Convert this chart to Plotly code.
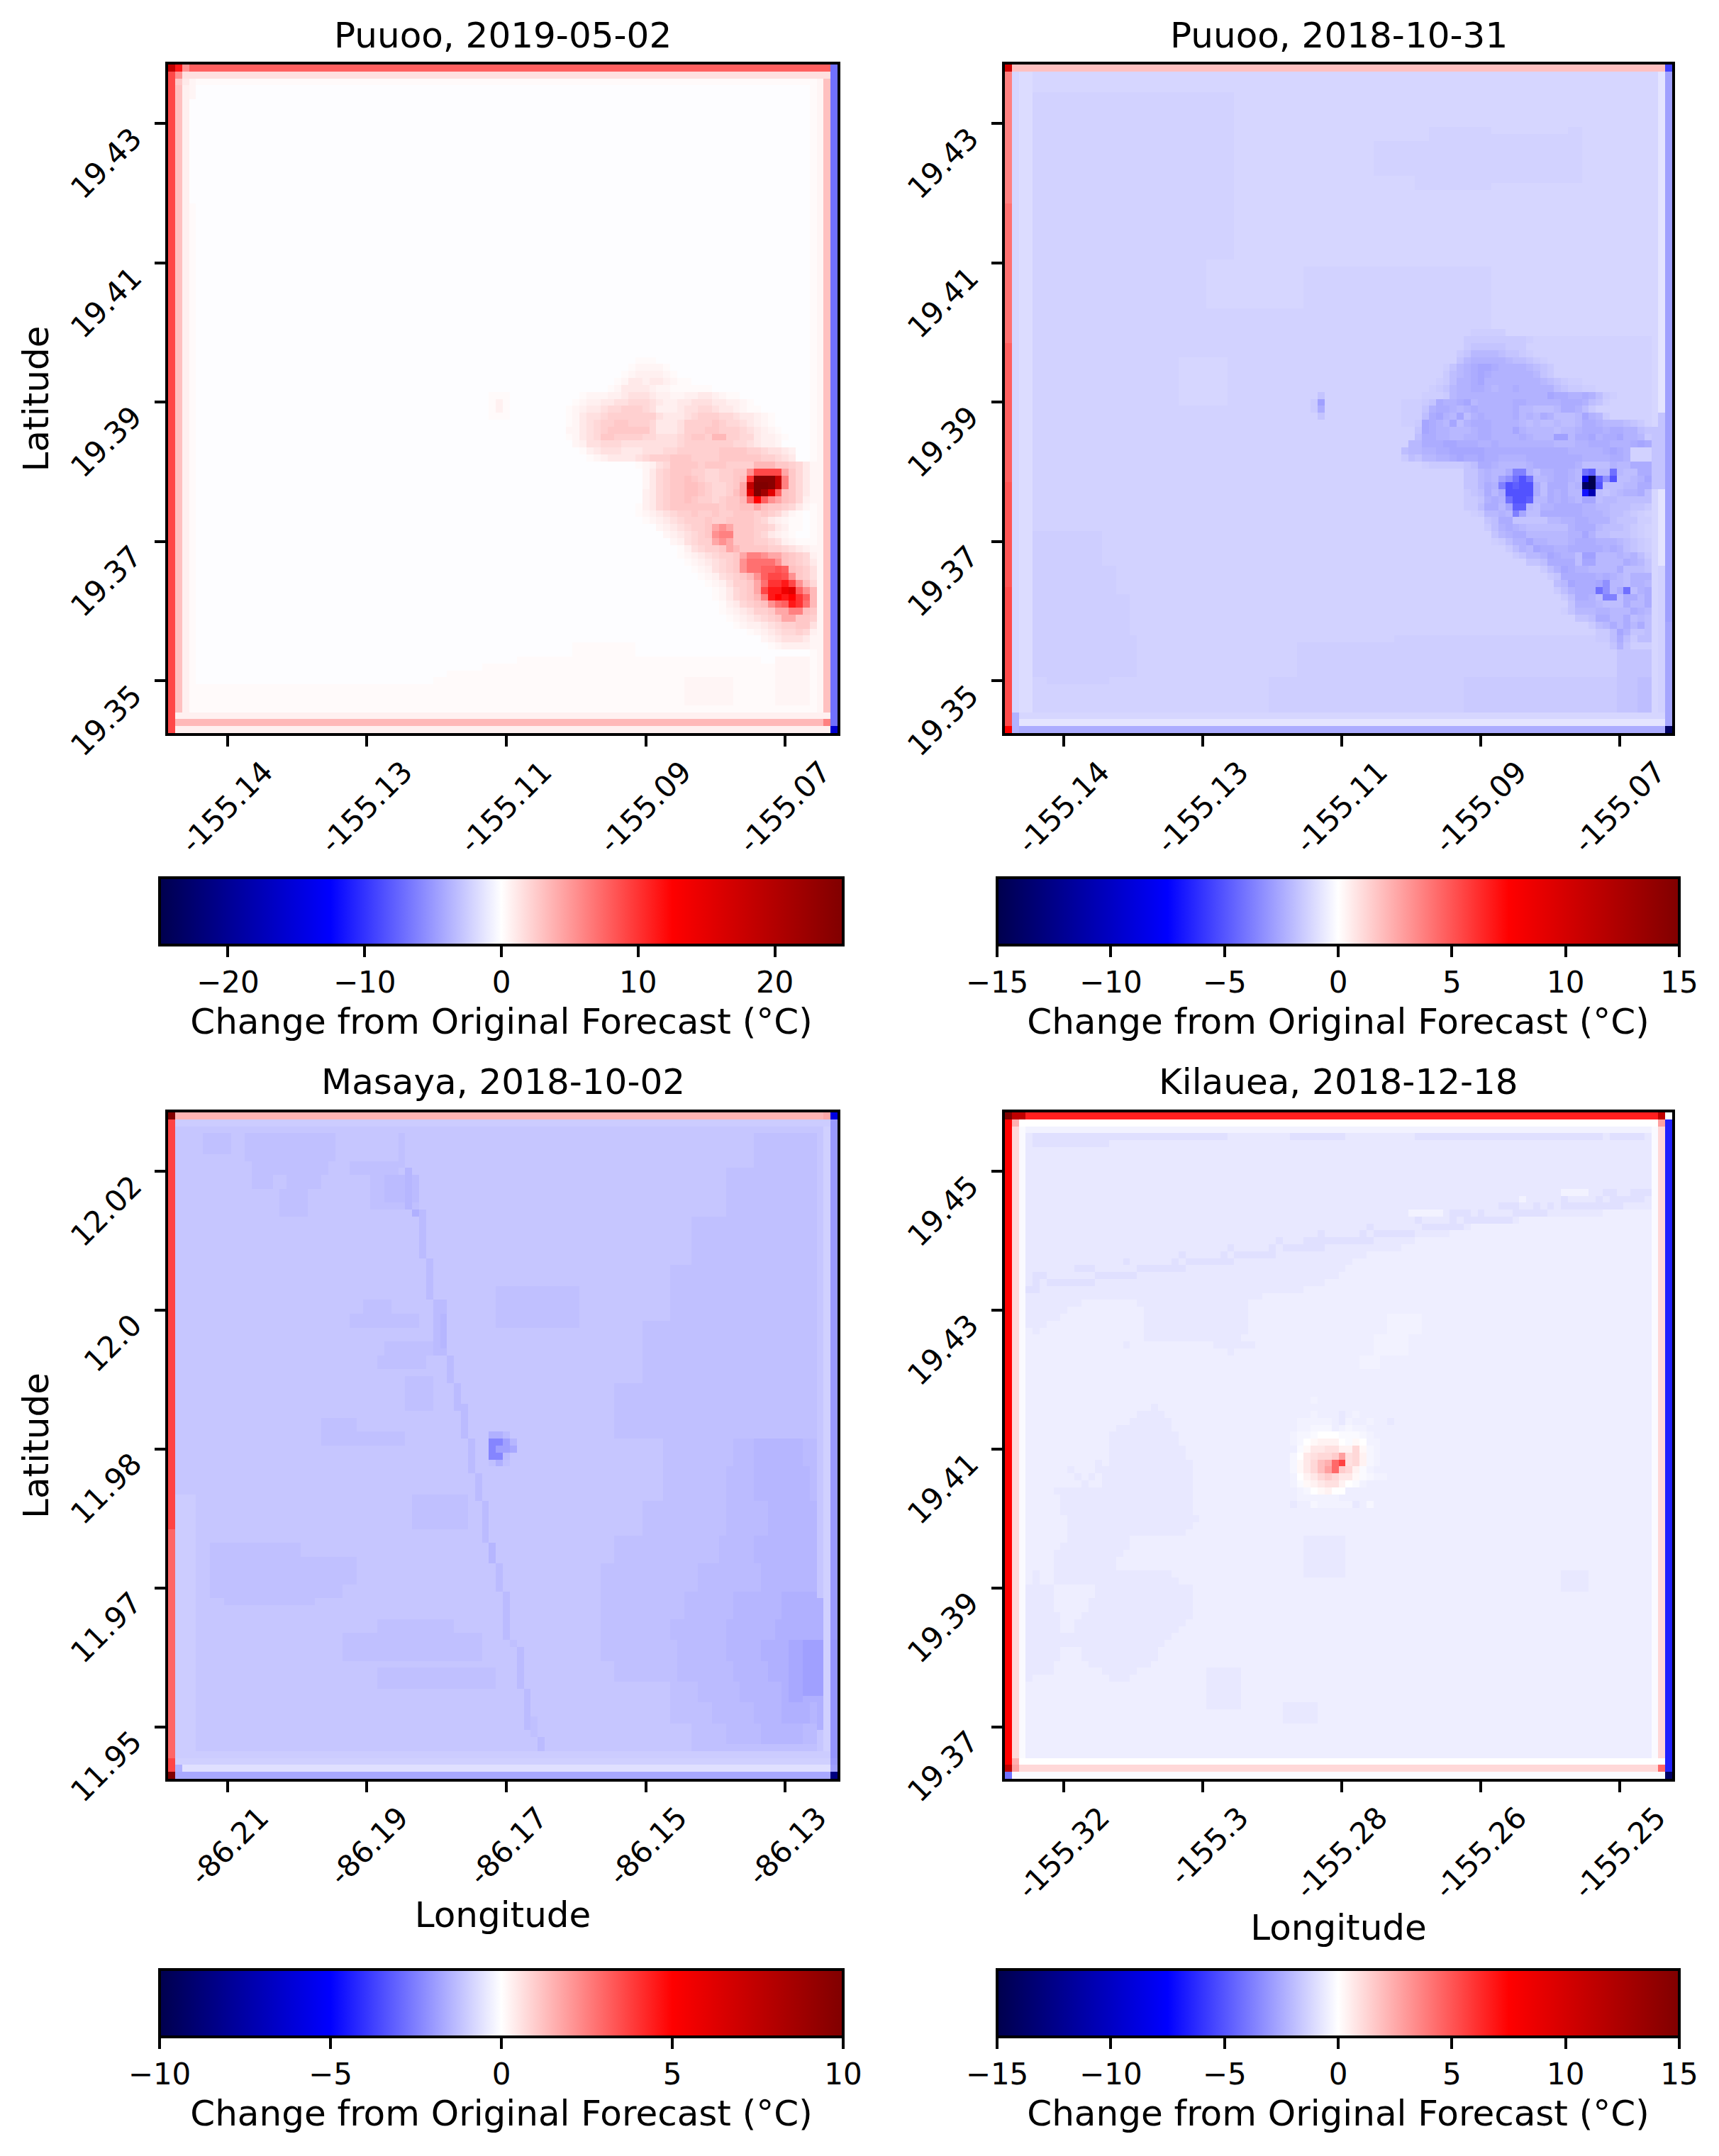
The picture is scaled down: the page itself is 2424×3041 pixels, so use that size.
import plotly.graph_objects as go

W, H = 2424, 3041
FONT = "DejaVu Sans"
N = 96

TITLES = ["Puuoo, 2019-05-02", "Puuoo, 2018-10-31", "Masaya, 2018-10-02", "Kilauea, 2018-12-18"]
TICK_POS = [8, 28, 48, 68, 88]
X_LABELS = [["-155.14", "-155.13", "-155.11", "-155.09", "-155.07"],
            ["-155.14", "-155.13", "-155.11", "-155.09", "-155.07"],
            ["-86.21", "-86.19", "-86.17", "-86.15", "-86.13"],
            ["-155.32", "-155.3", "-155.28", "-155.26", "-155.25"]]
Y_LABELS = [["19.43", "19.41", "19.39", "19.37", "19.35"],
            ["19.43", "19.41", "19.39", "19.37", "19.35"],
            ["12.02", "12.0", "11.98", "11.97", "11.95"],
            ["19.45", "19.43", "19.41", "19.39", "19.37"]]
VMAX = [25, 15, 10, 15]
DTICK = [10, 5, 5, 5]
CB_TITLE = "Change from Original Forecast (°C)"
SEISMIC = [[0, "rgb(0,0,77)"], [0.25, "rgb(0,0,255)"], [0.5, "rgb(255,255,255)"],
           [0.75, "rgb(255,0,0)"], [1, "rgb(128,0,0)"]]

# ---- Panel 1 values (deg C) by shade letter
P1_LEVELS = dict(n=-0.1, a=.25, b=.5, c=.75, d=1.1, e=1.5, f=1.9, g=2.3, h=2.7, i=3.1, j=3.5, k=4.3,
                 l=5.4, m=6.2, M=7.0, o=7.8, O=8.5, p=9.0, q=10.0, r=11.3, s=12.5, T=14.0, t=15.5,
                 u=18.7, v=21.8, x=24.2, y=25.0, B=-7.0, Z=-15.8)
P1_ZONES = [(47, 50, 46, 48, 'a'), (48, 49, 47, 47, 'c'),
            (83, 84, 58, 66, 'a'), (85, 85, 50, 84, 'a'), (86, 86, 45, 92, 'a'), (87, 87, 40, 92, 'a'),
            (88, 88, 38, 92, 'a'), (89, 92, 3, 92, 'a'), (88, 91, 74, 80, 'b'), (85, 91, 87, 91, 'b'),
            (20, 95, 3, 3, 'a'), (0, 95, 0, 0, 'p'), (0, 95, 1, 1, 'i'), (0, 95, 2, 2, 'c'),
            (0, 95, 92, 92, 'a'), (0, 95, 93, 93, 'b'), (0, 95, 94, 94, 'i'), (0, 95, 95, 95, 'B'),
            (0, 0, 0, 94, 'o'), (1, 1, 1, 94, 'e'), (2, 2, 3, 92, 'a'),
            (93, 93, 1, 94, 'c'), (94, 94, 1, 94, 'j'), (95, 95, 1, 94, 'c')]
P1_ROWS = [(42, 67, "aaa"), (43, 66, "abbbba"), (44, 65, "abccccba"), (45, 64, "abddcddcbaa"),
           (46, 63, "abddddcbbaaaaaa"), (47, 59, "abbbccdeeedccbbccddcbaa"),
           (48, 58, "abccddeefffedccddeeeddccba"), (49, 57, "abcddeffgggfecccdeeffeddcbaa"),
           (50, 57, "abdeefgggggggedddefgggffeddcba"), (51, 57, "abdefgghhgggfdddegggghgffedcba"),
           (52, 57, "bbdefghhhhhhfdddeggghhgggfedcba"), (53, 57, "abdefhhggggffeeefghhgjjggffdccba"),
           (54, 58, "bceefffeeeeeeeefgggggggffedccb"), (55, 59, "acdeeedddeeeffgggggghhhhggfeedc"),
           (56, 60, "abcddddefggghhhgggghhhhhhggfed"), (57, 67, "abcefhhhhghhhggggjjjhhgfdb"),
           (58, 68, "bdfghhhggffgghhlppppkhfdb"), (59, 68, "bdfghhihgffgghiqxxxumhfdb"),
           (60, 68, "bdfghhiihgffghkuyyxumhfdb"), (61, 68, "cdfghhiihgffgiktyvtoihfdb"),
           (62, 68, "cdfghhihggfghhjosolkihfcb"), (63, 67, "acdfghhhhhhhghhiikihhgfdba"),
           (64, 67, "abcdefgghgghgghhhghgfdba"), (65, 68, "abcdefggghgghhhhgfdcbaa"),
           (66, 70, "bcdefgghklkhhhggfdcaa"), (67, 71, "bcdefghlmmhhhgfdcba"),
           (68, 72, "bcefggklkhhhggfecbaa"), (69, 73, "acefgghkjhhhhggfedcb"),
           (70, 73, "abcdefgghkmmlkkihgfc"), (71, 74, "abcdefghlMMMMlihgfd"),
           (72, 75, "abcefghlMMooOoihge"), (73, 76, "abcefghjloppOlhge"),
           (74, 77, "abcegghkMqqrplif"), (75, 78, "abdfghkprrTtolj"), (76, 78, "abdfghjmrsrsqoj"),
           (77, 79, "acdfghilMorqMj"), (78, 79, "abcdegghkkmmih"), (79, 80, "abcdefghkkhhg"),
           (80, 81, "abccdefgghhe"), (81, 83, "abcdeffgfc"), (82, 85, "bcdeeedb"), (83, 86, "abccccb"),
           (0, 0, "url"), (0, 95, "B"), (1, 0, "pleee"), (2, 0, "phdb"), (3, 0, "picb"), (4, 0, "picb"),
           (94, 94, "m"), (95, 95, "Z")]

# ---- Panel 2
P2_LEVELS = dict(a=-1.21, b=-1.33, c=-1.44, d=-1.56, e=-1.73, f=-1.91, g=-2.09, h=-2.26, i=-2.44, j=-2.62,
                 k=-2.79, l=-3.26, m=-3.75, o=-4.2, p=-4.7, q=-5.1, r=-7.0, s=-8.8, t=-10.8, u=-14.2, v=-15.0,
                 x=-1.03, y=-0.8, Q=3.75, V=4.2, R=4.7, W=5.0, S=5.3, T=1.85, U=10.3, P=-5.6, A=7.5)
P2_ZONES = [(1, 3, 1, 94, 'a'), (4, 28, 33, 52, 'a'), (4, 8, 53, 92, 'a'), (8, 18, 83, 92, 'a'),
            (18, 28, 53, 92, 'a'), (8, 10, 53, 60, 'a'), (16, 18, 53, 58, 'a'), (8, 9, 70, 80, 'a'), (17, 18, 70, 82, 'a'),
            (28, 34, 29, 42, 'a'), (28, 38, 70, 92, 'a'), (42, 48, 25, 31, 'a'),
            (67, 72, 4, 13, 'c'), (72, 76, 4, 15, 'c'), (76, 82, 4, 17, 'c'), (82, 87, 4, 18, 'c'), (87, 88, 6, 14, 'c'),
            (82, 83, 56, 92, 'c'), (83, 87, 42, 92, 'c'), (88, 93, 38, 92, 'c'), (88, 92, 66, 92, 'd'),
            (84, 92, 88, 92, 'e'), (88, 92, 91, 92, 'f'),
            (0, 20, 0, 0, 'Q'), (20, 40, 0, 0, 'V'), (40, 60, 0, 0, 'R'), (60, 75, 0, 0, 'W'), (75, 95, 0, 0, 'S'),
            (0, 95, 1, 1, 'a'), (0, 95, 2, 3, 'x'),
            (0, 95, 93, 93, 'a'), (0, 95, 94, 94, 'y'), (50, 54, 94, 94, 'e'), (54, 60, 94, 94, 'c'),
            (52, 60, 93, 94, 'e'), (72, 95, 94, 94, 'b'), (0, 95, 95, 95, 'k'), (80, 95, 95, 95, 'j'),
            (0, 0, 0, 95, 'T'), (93, 93, 1, 94, 'a'), (94, 94, 1, 94, 'y'), (95, 95, 0, 94, 'i')]
P2_ROWS = [(38, 67, "ccccc"), (39, 66, "dddddddddc"), (40, 66, "deeeeeddd"), (41, 65, "deggggfeedc"),
           (42, 65, "eghhhhhgffedc"), (43, 63, "ceghijjihhhhgfed"), (44, 63, "dfghijihhhhhhged"),
           (45, 62, "cdfhhijhhhhhhhhgfedcc"), (46, 61, "cdeghhiihghhihhhhhfeddcc"),
           (47, 56, "bbbbcccdghhhhhhhhhhhhhjiihhihfdc"), (48, 56, "bcccdeihhijghhhhhiihhhhhiiihfec"),
           (49, 56, "bcccehiihghihhhhhiggfffgiihfd"), (50, 56, "bcccfijhgjfhihhhhighgihfffgjhgd"),
           (51, 56, "bccdjihgjfhiiihhhhgfgffgffgiihgggfed"),
           (52, 59, "ejihhggghiihhhjhggggfgghiiihiihhfed"), (53, 59, "fiihhgghhiihhhhihgggkkgiijhiijhhgdd"),
           (54, 58, "ggiiijjiiihhihhhhhhhhggghhiiihhhijiig"), (55, 57, "fgghhiijjjjjiiiiiiiiiiiihhhhhijih"),
           (56, 57, "dfegghhijiijiihhhhiiiiiiiihhhhiih"), (57, 60, "cdddddefiihgggghiiiiiihffffhggiiif"),
           (58, 66, "eeghggimmhfhhiihgopggogffiih"), (59, 66, "eeghgkloqogghiihgsvplqffghjh"),
           (60, 66, "eegihmqpqqifiiighuvqfffggiig"), (61, 66, "defigiqqqqifihiggrtfefghhife"),
           (62, 66, "ddehihoqqpggihihgjjfggffffffe"), (63, 66, "ddfiigjppgfhhiiiihhggfffeed"),
           (64, 67, "cdgghgmjffiiiiiihhhgffedc"), (65, 69, "efiieeeeegghhiihhhfeeecc"),
           (66, 69, "dfhihgffffffhiiigfffedc"), (67, 70, "eghiigggggghhjhffeeedc"),
           (68, 70, "cdfhhjhhggghiiihhhgfedc"), (69, 72, "dfhgjiihhiiiiihihfedc"),
           (70, 73, "degghjihhfkkggghghfd"), (71, 75, "eefiiiifjjggggihge"), (72, 77, "dfhjihhggggifffe"),
           (73, 78, "deiiiiihihgfhhhd"), (74, 79, "fgjiiijlggfhhgg"), (75, 79, "dfhiiiolgiofhif"),
           (76, 80, "dfiihfmmfiigif"), (77, 81, "ehhhgfffiggid"), (78, 80, "ceggghhgggihgf"),
           (79, 82, "eefiiggifgf"), (80, 84, "dfgigigif"), (81, 85, "ddfjheef"), (82, 85, "ddfifdff"), (83, 87, "ehe"),
           (47, 45, "e"), (48, 44, "dk"), (49, 44, "di"), (50, 45, "e"),
           (0, 0, "U"), (0, 95, "P"), (93, 1, "h"), (94, 0, "S"), (94, 1, "h"), (95, 0, "A"), (95, 1, "h"), (95, 95, "u")]

# ---- Panel 3
P3_LEVELS = dict(a=-1.0, b=-1.12, c=-1.24, d=-1.33, e=-1.43, f=-1.55, g=-1.7, h=-1.86, i=-2.1, j=-2.0, k=-2.4,
                 l=-0.92, m=-0.6, R=3.67, S=3.0, T=1.47, U=10.0, V=-5.9, W=-8.6, n=1.7)
P3_ZONES = [(3, 5, 5, 8, 'c'), (3, 6, 11, 23, 'c'), (7, 8, 12, 22, 'c'), (9, 10, 12, 14, 'c'), (9, 10, 17, 21, 'c'),
            (11, 14, 16, 19, 'c'), (7, 8, 26, 32, 'c'), (9, 13, 29, 35, 'c'),
            (9, 12, 31, 35, 'd'), (27, 28, 28, 31, 'c'), (29, 30, 26, 35, 'c'), (33, 34, 31, 38, 'c'), (35, 36, 30, 36, 'c'), (38, 42, 34, 37, 'c'),
            (44, 45, 22, 26, 'c'), (46, 47, 22, 33, 'c'), (55, 59, 35, 42, 'c'), (62, 63, 6, 18, 'c'), (64, 67, 6, 26, 'c'), (68, 69, 6, 24, 'c'), (70, 70, 8, 20, 'c'),
            (73, 74, 30, 40, 'c'), (75, 78, 25, 44, 'c'), (80, 82, 30, 46, 'c'),
            (3, 8, 84, 92, 'c'), (8, 15, 80, 92, 'c'), (15, 22, 75, 92, 'c'), (22, 30, 72, 92, 'c'), (25, 30, 47, 58, 'c'), (30, 38, 68, 92, 'c'), (39, 46, 64, 92, 'c'),
            (47, 50, 71, 92, 'c'), (47, 50, 81, 92, 'd'), (47, 50, 84, 90, 'e'),
            (51, 55, 71, 92, 'c'), (51, 55, 80, 92, 'd'), (51, 55, 84, 91, 'e'),
            (56, 60, 68, 92, 'c'), (56, 60, 80, 92, 'd'), (56, 60, 86, 92, 'e'),
            (61, 64, 64, 92, 'c'), (61, 64, 79, 92, 'd'), (61, 64, 84, 92, 'e'),
            (65, 68, 62, 92, 'c'), (65, 68, 76, 92, 'd'), (65, 68, 85, 92, 'e'),
            (69, 72, 62, 92, 'c'), (69, 72, 74, 92, 'd'), (69, 72, 81, 92, 'e'), (69, 72, 88, 92, 'f'),
            (73, 75, 62, 92, 'c'), (73, 75, 72, 92, 'd'), (73, 75, 80, 92, 'e'), (73, 75, 87, 92, 'f'),
            (76, 78, 62, 72, 'c'), (76, 78, 73, 92, 'd'), (76, 78, 80, 92, 'e'), (76, 78, 85, 92, 'f'),
            (79, 81, 64, 72, 'c'), (79, 81, 73, 92, 'd'), (79, 81, 81, 92, 'e'), (79, 81, 86, 92, 'f'),
            (82, 84, 72, 75, 'c'), (82, 84, 76, 92, 'd'), (82, 84, 82, 92, 'e'), (82, 84, 88, 92, 'f'),
            (85, 87, 72, 77, 'c'), (85, 87, 78, 92, 'd'), (85, 87, 84, 92, 'e'), (85, 87, 88, 91, 'f'),
            (88, 90, 75, 79, 'c'), (88, 90, 80, 92, 'd'), (88, 90, 85, 90, 'e'), (91, 91, 75, 92, 'c'),
            (76, 84, 89, 90, 'g'), (76, 83, 91, 92, 'h'), (70, 88, 93, 93, 'f'), (76, 83, 93, 93, 'h'),
            (1, 7, 33, 33, 'c'), (8, 13, 34, 34, 'e'), (14, 14, 35, 35, 'f'), (14, 20, 36, 36, 'd'), (21, 26, 37, 37, 'd'),
            (27, 34, 38, 39, 'd'), (29, 33, 39, 39, 'e'), (35, 38, 40, 40, 'd'), (39, 42, 41, 41, 'd'), (42, 46, 42, 42, 'd'),
            (47, 51, 43, 43, 'd'), (52, 55, 44, 44, 'd'), (56, 61, 45, 45, 'd'), (62, 64, 46, 46, 'e'), (65, 68, 47, 47, 'd'),
            (69, 75, 48, 48, 'd'), (76, 76, 49, 49, 'c'), (77, 82, 50, 50, 'd'), (83, 88, 51, 51, 'd'), (87, 89, 52, 52, 'c'),
            (90, 93, 53, 53, 'd'),
            (0, 95, 0, 0, 'R'), (60, 95, 0, 0, 'S'), (55, 93, 1, 3, 'a'), (0, 69, 93, 93, 'b'), (89, 95, 93, 93, 'b'), (0, 95, 94, 94, 'l'),
            (0, 95, 95, 95, 'j'), (76, 92, 95, 95, 'i'), (0, 0, 1, 94, 'T'), (1, 1, 1, 94, 'a'), (2, 2, 1, 92, 'b'),
            (92, 92, 1, 94, 'a'), (93, 93, 1, 94, 'l'), (94, 94, 1, 94, 'm'), (95, 95, 0, 94, 'g')]
P3_ROWS = [(46, 46, "ffd"), (47, 46, "kkhe"), (48, 46, "khhg"), (49, 46, "kkd"), (50, 46, "cfc"),
           (0, 0, "U"), (0, 94, "nV"), (93, 0, "R"), (94, 0, "Rf"), (94, 95, "h"), (95, 0, "U"), (95, 95, "W")]

# ---- Panel 4
P4_LEVELS = dict(b=-0.5, a=-0.68, d=-0.91, c=-0.38, f=-0.26, g=-0.15, w=0.0, h=.2, i=.38, j=.68, k=.9, l=1.15,
                 m=1.5, n=1.9, o=2.35, p=2.8, q=4.4, r=5.6, s=7.5, t=11.2, u=15.0, x=6.6, y=-6.56, z=-14.0, B=-4.2)
P4_ZONES = [(3, 13, 3, 92, 'a'), (14, 14, 3, 85, 'a'), (15, 15, 3, 73, 'a'), (16, 16, 3, 66, 'a'), (17, 17, 3, 63, 'a'),
            (18, 18, 3, 58, 'a'), (19, 19, 3, 56, 'a'), (20, 20, 3, 51, 'a'), (21, 21, 3, 49, 'a'), (22, 22, 3, 48, 'a'),
            (23, 23, 3, 47, 'a'), (24, 24, 3, 45, 'a'), (25, 25, 3, 42, 'a'), (26, 26, 3, 36, 'a'), (27, 27, 3, 10, 'a'),
            (27, 27, 19, 34, 'a'), (28, 28, 3, 8, 'a'), (28, 31, 20, 34, 'a'), (29, 29, 3, 7, 'a'), (30, 30, 3, 5, 'a'),
            (31, 31, 4, 4, 'a'), (32, 32, 20, 33, 'a'), (33, 33, 17, 17, 'a'), (33, 33, 30, 35, 'a'), (34, 34, 32, 32, 'a'),
            (29, 31, 55, 59, 'c'), (32, 34, 53, 57, 'c'), (35, 36, 51, 53, 'c'),
            (3, 3, 4, 31, 'd'), (3, 3, 41, 48, 'd'), (3, 3, 59, 62, 'd'), (3, 3, 63, 85, 'd'), (3, 3, 87, 91, 'd'), (4, 4, 4, 14, 'd'),
            (11, 11, 80, 83, 'c'), (11, 11, 86, 87, 'd'), (11, 11, 90, 92, 'd'), (12, 12, 74, 74, 'c'), (12, 12, 80, 80, 'd'),
            (12, 12, 85, 85, 'd'), (12, 12, 87, 91, 'd'), (13, 13, 71, 73, 'd'), (13, 13, 76, 76, 'd'), (13, 13, 78, 78, 'd'),
            (13, 13, 80, 88, 'd'), (14, 14, 58, 62, 'c'), (14, 14, 64, 66, 'd'), (14, 14, 68, 68, 'd'), (14, 14, 73, 77, 'd'),
            (15, 15, 59, 59, 'd'), (15, 15, 64, 64, 'd'), (15, 15, 66, 72, 'd'), (16, 16, 52, 52, 'd'), (16, 16, 60, 65, 'd'),
            (17, 17, 45, 45, 'd'), (17, 17, 51, 51, 'd'), (17, 17, 53, 58, 'd'), (18, 18, 39, 39, 'd'), (18, 18, 43, 52, 'd'),
            (19, 19, 32, 32, 'd'), (19, 19, 38, 38, 'd'), (19, 19, 40, 45, 'd'), (20, 20, 25, 25, 'd'), (20, 20, 31, 31, 'd'),
            (20, 20, 33, 38, 'd'), (21, 21, 17, 17, 'd'), (21, 21, 24, 24, 'd'), (21, 21, 26, 32, 'd'), (22, 22, 10, 12, 'd'),
            (22, 22, 19, 25, 'd'), (23, 23, 4, 5, 'd'), (23, 23, 13, 18, 'd'), (24, 24, 4, 4, 'd'), (24, 24, 6, 10, 'd'),
            (24, 24, 11, 12, 'd'), (25, 25, 3, 4, 'd'),
            (42, 42, 21, 21, 'a'), (43, 43, 19, 22, 'a'), (44, 44, 18, 23, 'a'), (45, 45, 16, 23, 'a'), (46, 47, 15, 24, 'a'),
            (48, 49, 15, 25, 'a'), (50, 50, 15, 26, 'a'), (50, 51, 13, 13, 'a'), (51, 53, 14, 26, 'a'), (51, 51, 9, 9, 'a'),
            (52, 52, 10, 10, 'a'), (52, 52, 12, 12, 'a'), (53, 53, 11, 11, 'a'), (54, 54, 7, 26, 'a'), (55, 57, 8, 26, 'a'),
            (58, 58, 9, 27, 'a'), (59, 59, 9, 26, 'a'), (60, 60, 9, 25, 'a'), (61, 61, 9, 17, 'a'), (62, 62, 8, 17, 'a'),
            (63, 63, 7, 16, 'a'), (64, 65, 7, 15, 'a'), (66, 66, 4, 4, 'a'), (66, 66, 7, 14, 'a'), (66, 66, 14, 23, 'a'),
            (67, 67, 4, 4, 'a'), (67, 67, 7, 12, 'a'), (67, 67, 13, 24, 'a'), (68, 69, 3, 6, 'a'), (68, 69, 13, 26, 'a'),
            (70, 71, 3, 6, 'a'), (70, 71, 12, 26, 'a'), (72, 72, 3, 7, 'a'), (72, 72, 11, 26, 'a'), (73, 74, 3, 7, 'a'),
            (73, 73, 10, 25, 'a'), (74, 74, 10, 24, 'a'), (75, 75, 3, 23, 'a'), (76, 76, 3, 22, 'a'), (77, 78, 3, 7, 'a'),
            (77, 78, 11, 21, 'a'), (79, 80, 3, 6, 'a'), (79, 79, 12, 20, 'a'), (80, 80, 14, 18, 'a'), (81, 81, 3, 3, 'a'),
            (81, 81, 15, 17, 'a'), (61, 66, 43, 48, 'a'), (80, 85, 29, 33, 'a'), (85, 87, 40, 44, 'a'), (66, 68, 80, 83, 'a'),
            (0, 95, 0, 0, 's'), (0, 95, 1, 1, 'l'), (0, 95, 2, 2, 'g'), (0, 95, 93, 93, 'g'), (0, 95, 94, 94, 'l'),
            (0, 95, 95, 95, 'y'), (0, 0, 0, 95, 'x'), (1, 1, 1, 94, 'w'), (2, 2, 3, 92, 'c'), (93, 93, 1, 94, 'w'),
            (94, 94, 1, 94, 'l'), (95, 95, 1, 94, 'g')]
P4_ROWS = [(41, 44, "c"), (43, 44, "c"), (43, 48, "a"), (43, 50, "c"), (44, 42, "ccccc"), (44, 48, "ac"), (44, 52, "c"), (44, 55, "a"),
           (45, 42, "ccfffbcfcc"), (46, 41, "cffgwwwgggfc"), (47, 41, "cfwhiiiwghwcc"),
           (48, 42, "ghjjkkiilhfc"), (49, 41, "fwjkllmpklifc"), (50, 41, "fhjlnoqrklifc"),
           (51, 41, "fhjlnpqmligc"), (52, 41, "cwijlmljjhgfcc"), (53, 41, "cghijkkiwgc"),
           (54, 42, "cfwhiwwb"), (55, 42, "cccccc"), (56, 41, "a"), (56, 44, "fccccc"), (56, 50, "a"), (56, 52, "f"),
           (0, 0, "utt"), (0, 94, "tw"), (1, 0, "so"), (1, 94, "p"), (93, 0, "so"), (94, 0, "tpl"), (94, 94, "q"), (95, 0, "B"), (95, 95, "z")]

PANELS = [(P1_LEVELS, 'n', P1_ZONES, P1_ROWS), (P2_LEVELS, 'b', P2_ZONES, P2_ROWS),
          (P3_LEVELS, 'b', P3_ZONES, P3_ROWS), (P4_LEVELS, 'b', P4_ZONES, P4_ROWS)]


def build(levels, base, zones, rows):
    grid = [[levels[base]] * N for _ in range(N)]
    for r1, r2, c1, c2, code in zones:
        for r in range(r1, r2 + 1):
            for c in range(c1, c2 + 1):
                grid[r][c] = levels[code]
    for r, start, text in rows:
        for i, code in enumerate(text):
            if start + i < N - 3 or r < 5 or r > 92 or start >= N - 3:
                grid[r][start + i] = levels[code]
    return grid


# pixel layout of the page
PLOT_X = [(237, 1181), (1417, 2358), (237, 1181), (1417, 2358)]
PLOT_Y = [(91, 1034), (91, 1034), (1569, 2509), (1569, 2509)]
CB_X = [(225, 1189), (1406, 2368), (225, 1189), (1406, 2368)]
CB_TOP = [1238, 1238, 2778, 2778]
TITLE_Y = [50, 50, 1526, 1526]
XT_STANDOFF = [None, None, 16, 15]
X_SHIFT = [52, 52, 46, 52]

fig = go.Figure()
anns = []
for i, (levels, base, zones, rows) in enumerate(PANELS):
    sfx = "" if i == 0 else str(i + 1)
    x0, x1 = PLOT_X[i]
    y0, y1 = PLOT_Y[i]
    cx0, cx1 = CB_X[i]
    fig.add_trace(go.Heatmap(
        z=build(levels, base, zones, rows), xaxis="x" + sfx, yaxis="y" + sfx,
        zmin=-VMAX[i], zmax=VMAX[i], colorscale=SEISMIC, hoverongaps=False,
        colorbar=dict(orientation="h", xref="paper", yref="paper", xanchor="center", yanchor="top",
                      x=(cx0 + cx1) / 2 / W, y=1 - CB_TOP[i] / H, lenmode="pixels", len=cx1 - cx0,
                      thicknessmode="pixels", thickness=95, xpad=0, ypad=0,
                      outlinecolor="black", outlinewidth=4, borderwidth=0,
                      tick0=0, dtick=DTICK[i], ticks="outside", ticklen=15, tickwidth=3.5, tickcolor="black",
                      tickfont=dict(family=FONT, size=42, color="black"),
                      title=dict(text=CB_TITLE, side="bottom", font=dict(family=FONT, size=50, color="black")))))
    common = dict(showgrid=False, zeroline=False, showline=True, mirror=True, linecolor="black", linewidth=4,
                  ticks="outside", ticklen=15, tickwidth=3.5, tickcolor="black", tickmode="array",
                  tickvals=TICK_POS, tickangle=-45, tickfont=dict(family=FONT, size=42, color="black"))
    xa = dict(common, domain=[x0 / W, x1 / W], range=[-0.5, 95.5], ticktext=X_LABELS[i], anchor="y" + sfx,
              ticklabelshift=X_SHIFT[i], ticklabelstandoff=-6)
    ya = dict(common, domain=[1 - y1 / H, 1 - y0 / H], range=[95.5, -0.5], ticktext=Y_LABELS[i], anchor="x" + sfx,
              ticklabelshift=-15, ticklabelstandoff=22)
    if XT_STANDOFF[i] is not None:
        xa["title"] = dict(text="Longitude", standoff=XT_STANDOFF[i], font=dict(family=FONT, size=50, color="black"))
    if i in (0, 2):
        ya["title"] = dict(text="Latitude", standoff=6, font=dict(family=FONT, size=50, color="black"))
    fig.update_layout({"xaxis" + sfx: xa, "yaxis" + sfx: ya})
    anns.append(dict(text=TITLES[i], xref="paper", yref="paper", x=(x0 + x1) / 2 / W, y=1 - TITLE_Y[i] / H,
                     xanchor="center", yanchor="middle", showarrow=False,
                     font=dict(family=FONT, size=50, color="black")))

fig.update_layout(width=W, height=H, margin=dict(l=0, r=0, t=0, b=0, autoexpand=False), paper_bgcolor="white",
                  plot_bgcolor="white", showlegend=False, annotations=anns,
                  font=dict(family=FONT, size=42, color="black"))
fig.write_html("out.html", config={"displayModeBar": False},
               post_script="document.body.style.margin='0';document.body.style.overflow='hidden';")
